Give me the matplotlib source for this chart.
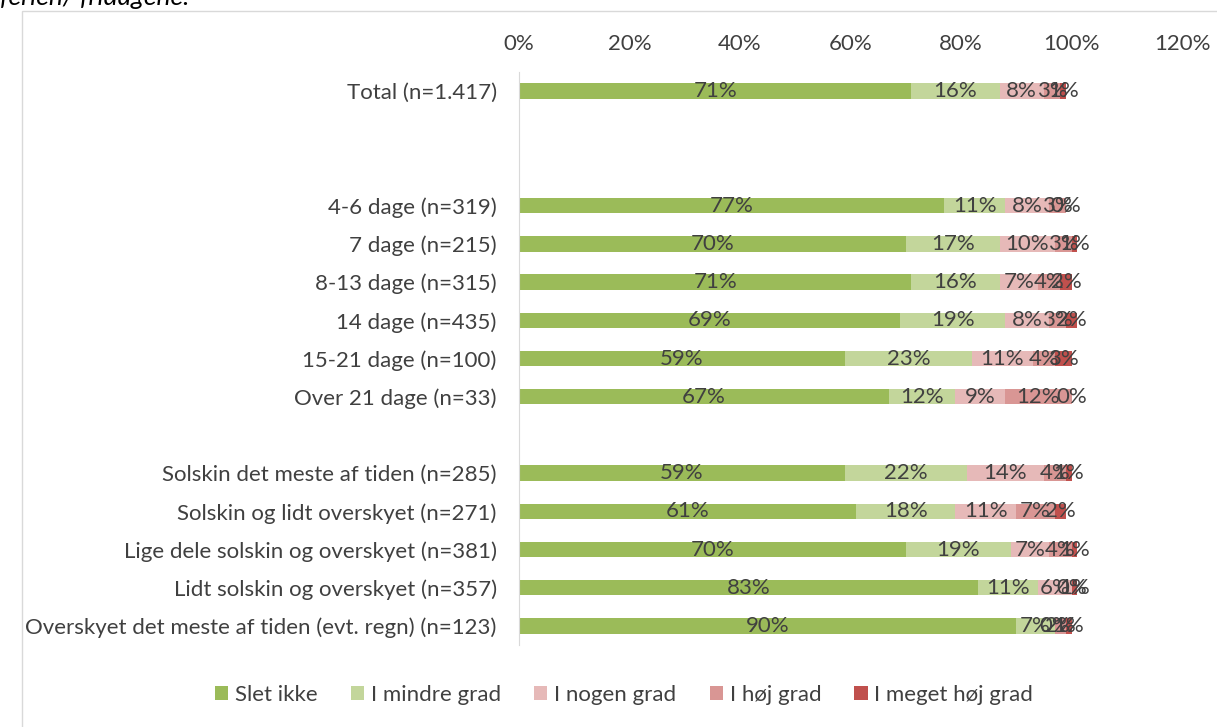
import matplotlib.pyplot as plt
from matplotlib.patches import Rectangle
import numpy as np

plt.rcParams['font.family'] = ['Lato', 'DejaVu Sans']

# rows from top to bottom, "" = empty spacer row
categories = ["Total (n=1.417)", "", "",
              "4-6 dage (n=319)", "7 dage (n=215)", "8-13 dage (n=315)",
              "14 dage (n=435)", "15-21 dage (n=100)", "Over 21 dage (n=33)", "",
              "Solskin det meste af tiden (n=285)", "Solskin og lidt overskyet (n=271)",
              "Lige dele solskin og overskyet (n=381)", "Lidt solskin og overskyet (n=357)",
              "Overskyet det meste af tiden (evt. regn) (n=123)"]

series_names = ["Slet ikke", "I mindre grad", "I nogen grad", "I høj grad", "I meget høj grad"]
slet_ikke = [71, None, None, 77, 70, 71, 69, 59, 67, None, 59, 61, 70, 83, 90]
mindre    = [16, None, None, 11, 17, 16, 19, 23, 12, None, 22, 18, 19, 11, 7]
nogen     = [8,  None, None, 8, 10, 7, 8, 11, 9, None, 14, 11, 7, 6, 0]
hoej      = [3,  None, None, 3, 3, 4, 3, 4, 12, None, 4, 7, 4, 0, 2]
meget     = [1,  None, None, 0, 1, 2, 2, 3, 0, None, 1, 2, 1, 1, 1]
colors = ["#9BBB59", "#C3D69B", "#E6B9B8", "#D99694", "#C0504D"]
xticks = [0, 20, 40, 60, 80, 100, 120]

fig = plt.figure(figsize=(12.17, 7.27), dpi=100)
ax = fig.add_axes([519/1217, 1 - 645/727, (1182 - 519)/1217, (645 - 72)/727])

y = np.arange(len(categories))
left = np.zeros(len(categories))
for name, vals, col in zip(series_names, [slet_ikke, mindre, nogen, hoej, meget], colors):
    v = np.array([np.nan if a is None else a for a in vals], dtype=float)
    w = np.nan_to_num(v)
    ax.barh(y, w, left=left, height=0.4, color=col, label=name)
    for i in range(len(categories)):
        if not np.isnan(v[i]):
            ax.text(left[i] + w[i] / 2, y[i], f"{int(v[i])}%", ha='center', va='center',
                    fontsize=16, color='#404040')
    left += w

ax.set_ylim(len(categories) - 0.5, -0.5)
ax.set_xlim(0, 120)
ax.set_yticks(y)
ax.set_yticklabels(categories, fontsize=16, color='#404040')
ax.xaxis.tick_top()
ax.set_xticks(xticks)
ax.set_xticklabels([f"{t}%" for t in xticks], fontsize=16, color='#404040')
ax.tick_params(axis='both', length=0)
ax.tick_params(axis='x', pad=13)
ax.tick_params(axis='y', pad=16)
for s in ['top', 'right', 'bottom']:
    ax.spines[s].set_visible(False)
ax.spines['left'].set_color('#D9D9D9')

ax.legend(loc='center', bbox_to_anchor=(624/1217, 1 - 695/727), bbox_transform=fig.transFigure,
          ncol=5, frameon=False, fontsize=16, labelcolor='#404040',
          handlelength=0.6, handleheight=0.6, handletextpad=0.3, columnspacing=1.5)

fig.patches.append(Rectangle((22/1217, -0.1), 1.2, 1.1 - 11/727, transform=fig.transFigure,
                             fill=False, edgecolor='#D9D9D9', linewidth=1))
fig.text(0.0, 1.004, "ferien/ fridagene.", fontsize=19, style='italic', color='#000000',
         ha='left', va='center')

fig.savefig("out.png", dpi=100)
